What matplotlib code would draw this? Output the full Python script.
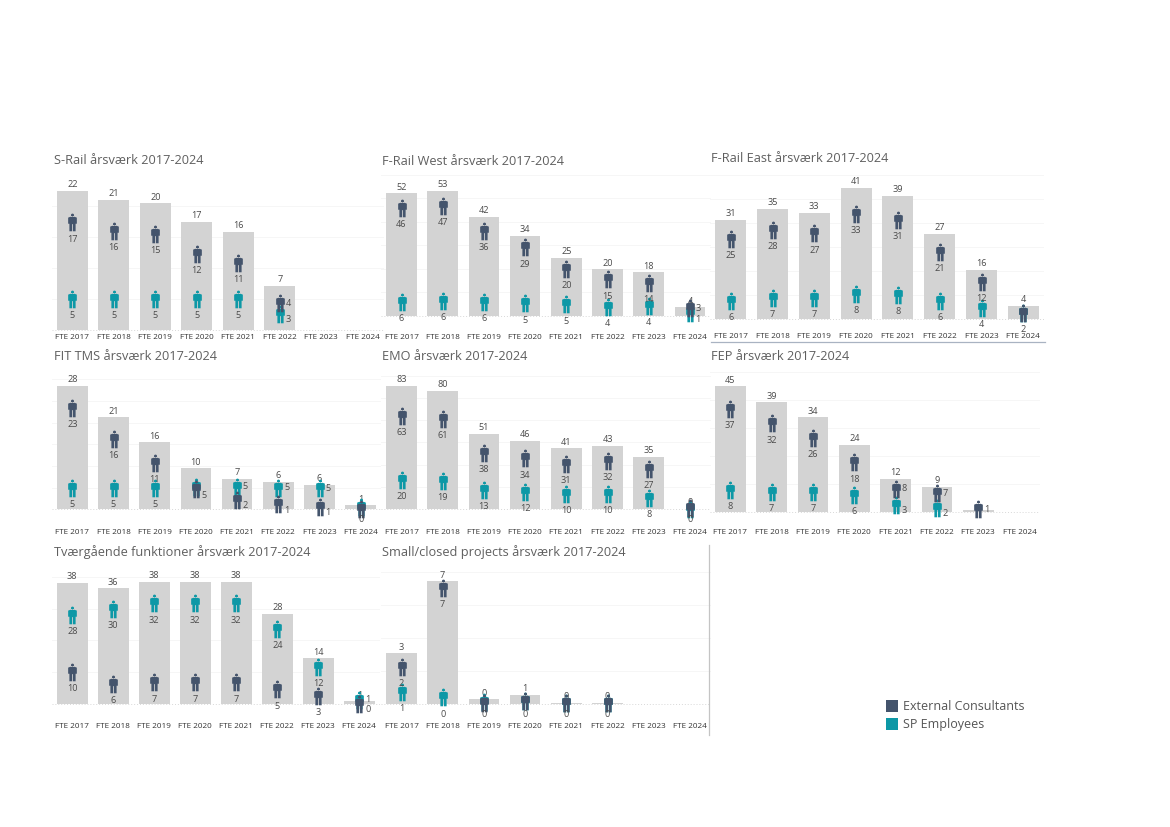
#!/usr/bin/env python3
# -*- coding: utf-8 -*-

import numpy as np
import matplotlib
matplotlib.use("Agg")
import matplotlib.pyplot as plt
from matplotlib.lines import Line2D
from matplotlib.patches import Rectangle
from matplotlib.path import Path

W, H = 1170, 827
nan = np.nan

years = ["FTE 2017", "FTE 2018", "FTE 2019", "FTE 2020", "FTE 2021", "FTE 2022", "FTE 2023", "FTE 2024"]

s_rail_total = [22.4, 20.9, 20.4, 17.4, 15.8, 7.1, nan, nan]
s_rail_ext = [17.3, 15.9, 15.4, 12.3, 10.8, 4.3, nan, nan]
s_rail_sp = [5.0, 5.0, 5.0, 5.0, 5.0, 2.6, nan, nan]

west_total = [52.0, 53.0, 42.1, 34.0, 24.6, 19.7, 18.4, 3.6]
west_ext = [45.9, 46.6, 36.0, 29.0, 19.8, 15.4, 13.9, 3.1]
west_sp = [5.9, 6.2, 5.9, 5.2, 4.8, 3.7, 4.0, 1.0]

east_total = [31.0, 34.6, 33.2, 41.1, 38.6, 26.7, 15.5, 4.2]
east_ext = [25.2, 27.9, 26.8, 32.9, 31.0, 21.1, 11.7, 1.8]
east_sp = [5.6, 6.6, 6.6, 7.8, 7.6, 5.6, 3.6, 2.0]

fit_total = [28.5, 21.2, 15.5, 9.5, 7.1, 6.3, 5.6, 0.9]
fit_ext = [23.4, 16.2, 10.8, 4.6, 2.2, 1.2, 0.6, 0.1]
fit_sp = [5.0, 5.0, 5.0, 5.2, 5.2, 5.0, 4.9, 0.5]

emo_total = [83.0, 79.6, 50.6, 45.9, 40.9, 42.6, 35.3, 0.2]
emo_ext = [62.6, 60.7, 37.8, 34.2, 30.6, 32.4, 27.0, 0.4]
emo_sp = [19.8, 18.9, 12.8, 11.7, 10.1, 10.1, 7.6, 0.2]

fep_total = [44.9, 39.2, 33.8, 24.0, 11.9, 9.0, nan, nan]
fep_ext = [36.7, 31.7, 26.4, 17.8, 8.4, 6.8, 1.0, nan]
fep_sp = [8.0, 7.4, 7.2, 6.3, 2.6, 1.6, nan, nan]
fep_bar = [44.9, 39.2, 33.8, 24.0, 11.9, 9.0, 0.95, nan]

tvaer_total = [38.1, 36.3, 38.4, 38.4, 38.4, 28.3, 14.4, 0.9]
tvaer_ext = [10.2, 6.2, 6.8, 6.8, 6.8, 4.6, 2.6, 0.1]
tvaer_sp = [28.0, 30.0, 31.6, 31.6, 31.6, 23.7, 11.7, 1.3]

small_total = [3.06, 7.42, 0.28, 0.56, 0.08, 0.08, nan, nan]
small_ext = [2.26, 7.0, 0.04, 0.16, 0.04, 0.04, nan, nan]
small_sp = [0.75, 0.4, 0.14, 0.2, 0.04, 0.04, nan, nan]

GREY_BAR = "#d3d3d3"
EXT = "#44546c"
SP = "#0d98a6"
TXT = "#4a4a4a"
TITLE = "#5f5f5f"

plt.rcParams["font.family"] = ["Open Sans", "DejaVu Sans"]

# person icon, y from -8.5 to 8.5
head = Path.circle((0, 7.1), 1.5)
body = Path([(-2.2, 5.5), (2.2, 5.5), (4.2, 4.7), (4.2, -1.2), (3.0, -1.2), (3.0, -8.5), (0.4, -8.5), (0.4, -1.6),
             (-0.4, -1.6), (-0.4, -8.5), (-3.0, -8.5), (-3.0, -1.2), (-4.2, -1.2), (-4.2, 4.7), (-2.2, 5.5)], closed=True)
person = Path.make_compound_path(head, body)


def fx(px):
    return px / W


def fy(px):
    return 1 - px / H


def draw_panel(title, title_xy, total, ext, sp, x0, step, base, scale, grid_step, top, tick_y, right=(), bar=None):
    left = x0 - step / 2
    right_px = x0 + 7.5 * step
    bottom = tick_y - 4
    ax = fig.add_axes([fx(left), fy(bottom), (right_px - left) / W, (bottom - top) / H])
    ax.set_xlim(-0.5, 7.5)
    ax.set_ylim(-(bottom - base) / scale, (base - top) / scale)
    ax.patch.set_alpha(0)
    for spine in ax.spines.values():
        spine.set_visible(False)

    x = np.arange(len(years))
    ax.bar(x, total if bar is None else bar, width=0.745, color=GREY_BAR, zorder=2)

    ymax = (base - top) / scale
    ax.set_yticks(np.arange(grid_step, ymax, grid_step))
    ax.set_yticklabels([])
    ax.tick_params(axis="y", length=0)
    ax.grid(True, axis="y", color="#f6f6f6", linewidth=0.7, zorder=0)
    ax.axhline(0, color="#d8d8d8", linewidth=0.7, linestyle=(0, (1, 2)), zorder=1)

    ax.set_xticks(x)
    ax.set_xticklabels(years, fontsize=5.9, color="#333333")
    ax.tick_params(axis="x", length=0, pad=0)

    ax.plot(x, sp, linestyle="none", marker=person, markersize=12.8, color=SP, markeredgewidth=0, clip_on=False, zorder=3)
    ax.plot(x, ext, linestyle="none", marker=person, markersize=12.8, color=EXT, markeredgewidth=0, clip_on=False, zorder=4)

    lab = dict(fontsize=6.6, color=TXT, ha="center", va="center", clip_on=False)
    for i in x:
        if not np.isnan(total[i]):
            top_val = total[i] if bar is None else bar[i]
            ax.annotate(f"{total[i]:.0f}", (i, top_val), xytext=(0, 4.4), textcoords="offset points", zorder=2.5, **lab)
        for vals, other in ((sp, ext), (ext, sp)):
            if np.isnan(vals[i]):
                continue
            # same number almost on the same spot, only one shows
            if vals is sp and not np.isnan(other[i]) and f"{vals[i]:.0f}" == f"{other[i]:.0f}" and abs(vals[i] - other[i]) * scale < 4:
                continue
            if i in right:
                lower = not np.isnan(other[i]) and vals[i] <= other[i]
                dy = -4.3 if lower else 0
                ax.annotate(f"{vals[i]:.0f}", (i, vals[i]), xytext=(6, dy), textcoords="offset points", zorder=5, **lab)
            else:
                # labels stop a little under the baseline
                y_px = max(vals[i] * scale - 16.7, -10.5)
                ax.text(i, y_px / scale, f"{vals[i]:.0f}", zorder=5, **lab)

    fig.text(fx(title_xy[0]), fy(title_xy[1]), title, fontsize=9.2, color=TITLE, ha="left", va="center")


fig = plt.figure(figsize=(W / 100, H / 100), dpi=100)

draw_panel("S-Rail årsværk 2017-2024", (53.5, 160.5), s_rail_total, s_rail_ext, s_rail_sp,
           72.3, 41.5, 330, 6.217, 5, 176, 337.7, right=(5,))
draw_panel("F-Rail West årsværk 2017-2024", (382.5, 161.5), west_total, west_ext, west_sp,
           401.5, 41.2, 315.7, 2.353, 10, 174, 337.7, right=(7,))
draw_panel("F-Rail East årsværk 2017-2024", (711.5, 158), east_total, east_ext, east_sp,
           730.7, 41.8, 319, 3.193, 7.5, 174, 336.7)
draw_panel("FIT TMS årsværk 2017-2024", (53.5, 357), fit_total, fit_ext, fit_sp,
           72.3, 41.2, 509.3, 4.333, 5, 378, 532.7, right=(3, 4, 5, 6))
draw_panel("EMO årsværk 2017-2024", (382, 357), emo_total, emo_ext, emo_sp,
           401.5, 41.2, 509, 1.482, 15, 369, 532.7)
draw_panel("FEP årsværk 2017-2024", (711.5, 357), fep_total, fep_ext, fep_sp,
           730.3, 41.33, 512.3, 2.807, 10, 370, 533, right=(4, 5, 6), bar=fep_bar)
draw_panel("Tværgående funktioner årsværk 2017-2024", (53.5, 552), tvaer_total, tvaer_ext, tvaer_sp,
           72.3, 41.0, 704, 3.183, 10, 575, 727.3, right=(7,))
draw_panel("Small/closed projects årsværk 2017-2024", (382, 552), small_total, small_ext, small_sp,
           401.5, 41.2, 704, 16.53, 2, 570, 727.3)

# separators between the dashboard panels
fig.add_artist(Line2D([fx(709), fx(709)], [fy(545), fy(735)], color="#c4c4c4", linewidth=0.9))
fig.add_artist(Line2D([fx(711), fx(1045)], [fy(341.5), fy(341.5)], color="#a9b3c2", linewidth=0.9))

# legend
for y, c, name in ((700, EXT, "External Consultants"), (718, SP, "SP Employees")):
    fig.add_artist(Rectangle((fx(886), fy(y + 12)), 12 / W, 12 / H, transform=fig.transFigure, color=c, linewidth=0))
    fig.text(fx(903), fy(y + 6.5), name, fontsize=9, color="#555555", ha="left", va="center")

fig.savefig("out.png", dpi=100)
